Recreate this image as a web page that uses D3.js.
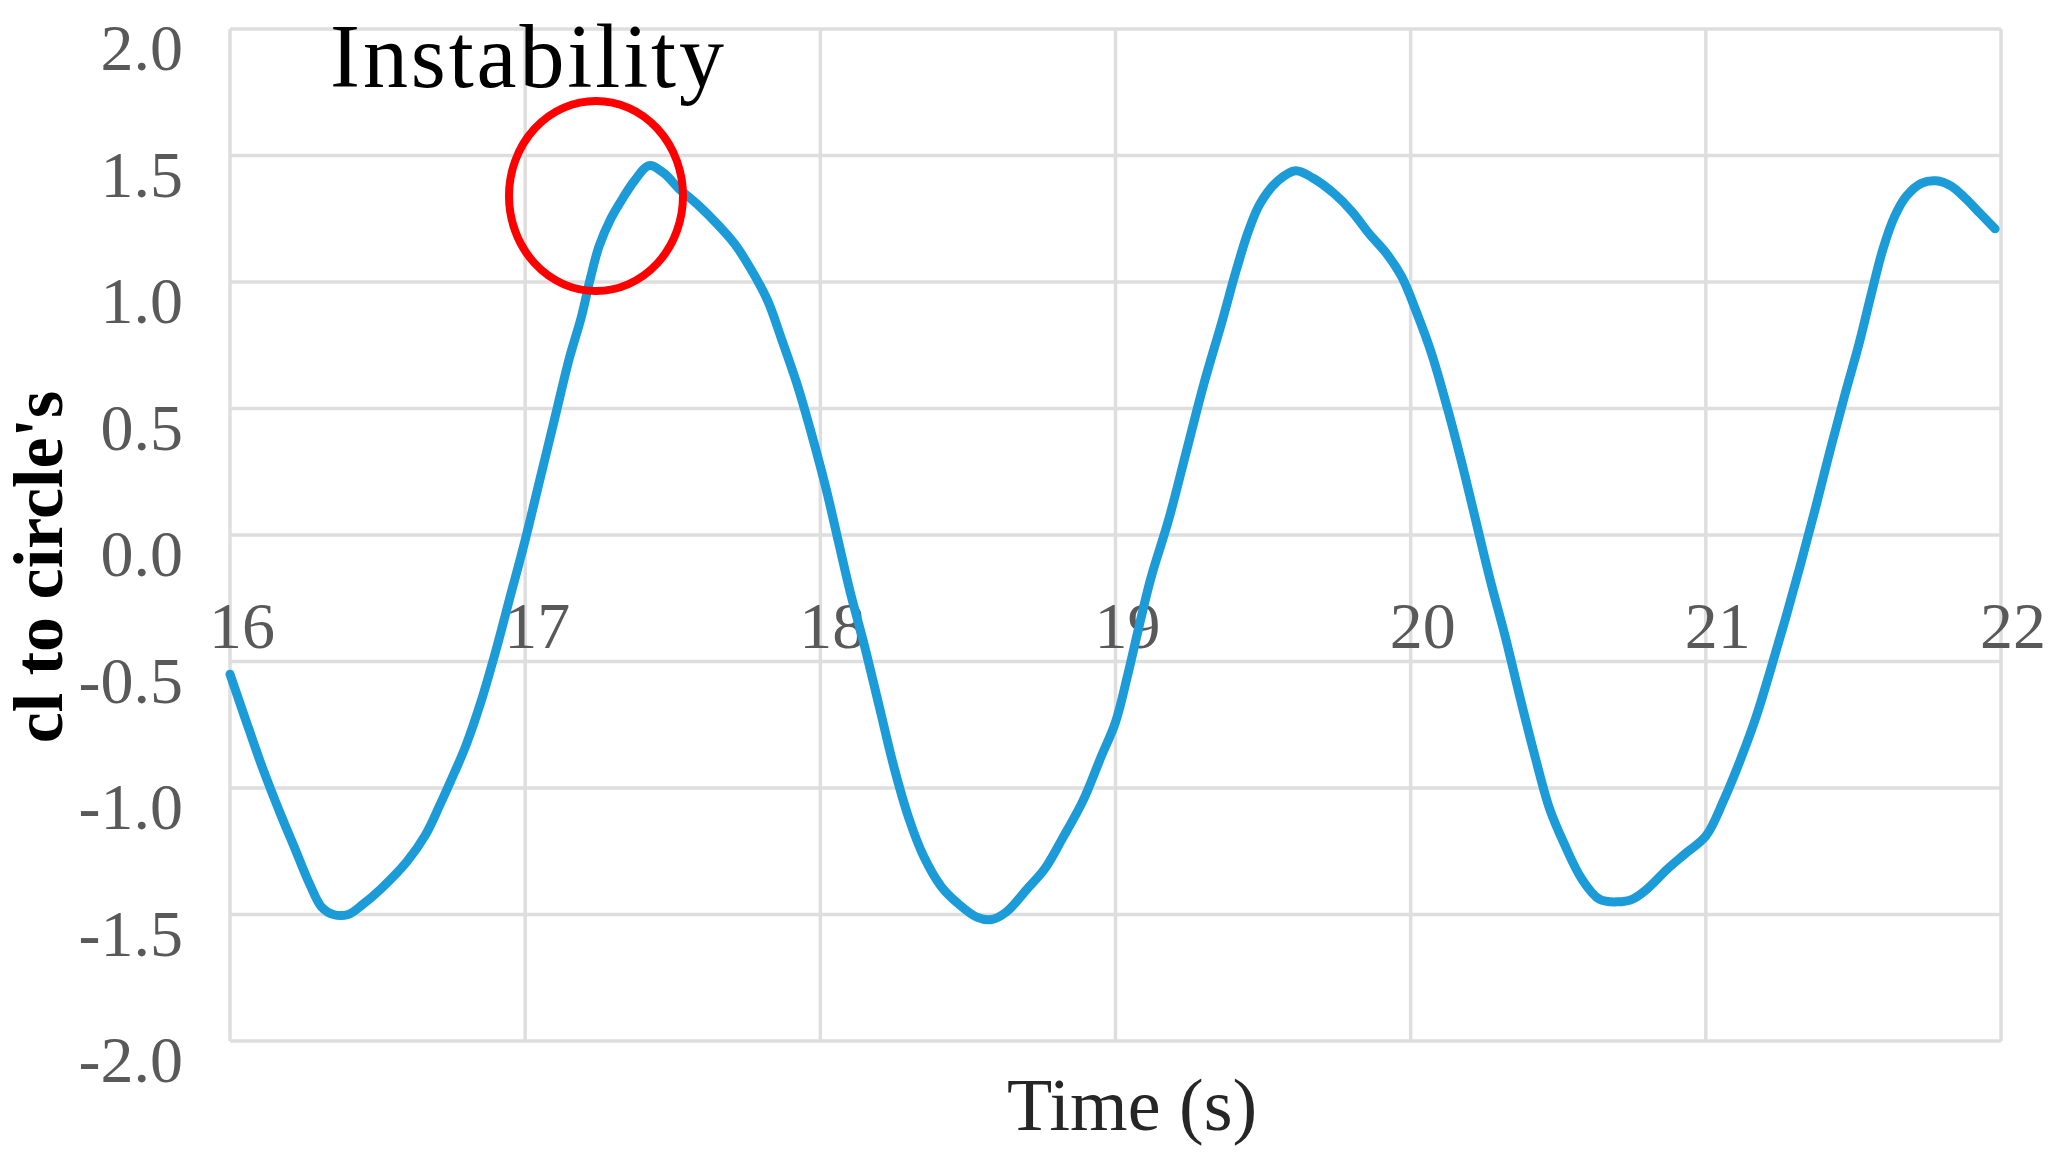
<!DOCTYPE html>
<html>
<head>
<meta charset="utf-8">
<script src="https://cdn.jsdelivr.net/npm/d3@7"></script>
<style>
  html, body { margin: 0; padding: 0; background: #ffffff; }
  svg { display: block; }
</style>
</head>
<body>
<svg id="chart" width="2062" height="1160"></svg>
<script>
// ---- data ----
const timeValues = [
  16.00, 16.05, 16.11, 16.17, 16.22, 16.27, 16.31, 16.35, 16.40, 16.45,
  16.51, 16.60, 16.66, 16.71, 16.76, 16.80, 16.85, 16.90, 16.95, 17.00,
  17.05, 17.10, 17.15, 17.19, 17.22, 17.25, 17.29, 17.33, 17.37, 17.42,
  17.47, 17.52, 17.59, 17.65, 17.71, 17.76, 17.82, 17.87, 17.92, 17.97,
  18.02, 18.06, 18.10, 18.15, 18.20, 18.25, 18.30, 18.35, 18.41, 18.47,
  18.53, 18.58, 18.63, 18.70, 18.76, 18.82, 18.89, 18.95, 19.00, 19.04,
  19.08, 19.12, 19.18, 19.24, 19.30, 19.36, 19.41, 19.45, 19.49, 19.55,
  19.61, 19.67, 19.74, 19.80, 19.86, 19.92, 19.97, 20.02, 20.07, 20.12,
  20.17, 20.22, 20.27, 20.32, 20.37, 20.42, 20.47, 20.52, 20.58, 20.64,
  20.70, 20.75, 20.80, 20.87, 20.93, 21.00, 21.06, 21.12, 21.17, 21.22,
  21.27, 21.32, 21.37, 21.42, 21.47, 21.52, 21.56, 21.60, 21.64, 21.68,
  21.73, 21.78, 21.83, 21.88, 21.93, 21.98
];
const clValues = [
  -0.55, -0.72, -0.92, -1.10, -1.24, -1.38, -1.47, -1.50, -1.50, -1.46,
  -1.40, -1.29, -1.19, -1.07, -0.94, -0.83, -0.66, -0.46, -0.24, -0.02,
  0.22, 0.46, 0.70, 0.86, 1.01, 1.14, 1.25, 1.33, 1.40, 1.46,
  1.43, 1.37, 1.30, 1.23, 1.15, 1.06, 0.93, 0.77, 0.60, 0.40,
  0.18, -0.02, -0.22, -0.44, -0.68, -0.92, -1.12, -1.27, -1.39, -1.46,
  -1.51, -1.52, -1.49, -1.40, -1.32, -1.20, -1.05, -0.88, -0.74, -0.56,
  -0.36, -0.17, 0.06, 0.33, 0.60, 0.84, 1.05, 1.20, 1.31, 1.40,
  1.44, 1.41, 1.35, 1.28, 1.19, 1.11, 1.02, 0.88, 0.72, 0.52,
  0.30, 0.06, -0.18, -0.40, -0.64, -0.87, -1.08, -1.22, -1.36, -1.44,
  -1.45, -1.44, -1.40, -1.32, -1.26, -1.19, -1.05, -0.88, -0.72, -0.53,
  -0.33, -0.12, 0.10, 0.33, 0.55, 0.76, 0.95, 1.13, 1.26, 1.34,
  1.39, 1.40, 1.38, 1.33, 1.27, 1.21
];
const xTicks = [16, 17, 18, 19, 20, 21, 22];
const yTicks = [-2.0, -1.5, -1.0, -0.5, 0.0, 0.5, 1.0, 1.5, 2.0];
const xTitle = "Time (s)";
const yTitle = "cl to circle's";
const annotationText = "Instability";
const annotationPoint = [17.24, 1.34]; // centre of the red ring (time, cl)

// ---- layout ----
const svg = d3.select("#chart");
const x = d3.scaleLinear().domain([16, 22]).range([230, 2001]);
const y = d3.scaleLinear().domain([-2, 2]).range([1041, 29]);

const serif = "'Liberation Serif', 'Times New Roman', serif";

// gridlines
const grid = svg.append("g");
grid.selectAll("line.h").data(yTicks).join("line")
  .attr("x1", x(16)).attr("x2", x(22))
  .attr("y1", d => y(d)).attr("y2", d => y(d))
  .attr("stroke", "#dedede").attr("stroke-width", 3.5);
grid.selectAll("line.v").data(xTicks).join("line")
  .attr("y1", y(2)).attr("y2", y(-2))
  .attr("x1", d => x(d)).attr("x2", d => x(d))
  .attr("stroke", "#dedede").attr("stroke-width", 3.5);

// y tick labels
svg.append("g").selectAll("text").data(yTicks).join("text")
  .attr("x", 183)
  .attr("y", d => y(d) + 41)
  .attr("text-anchor", "end")
  .attr("font-family", serif)
  .attr("font-size", 66)
  .attr("fill", "#595959")
  .text(d => d3.format(".1f")(d).replace("−", "-"));

// x tick labels (placed next to the zero line)
svg.append("g").selectAll("text").data(xTicks).join("text")
  .attr("x", d => x(d) + 12)
  .attr("y", y(0) + 113)
  .attr("text-anchor", "middle")
  .attr("font-family", serif)
  .attr("font-size", 66)
  .attr("fill", "#595959")
  .text(d => d);

// data line
const pts = timeValues.map((t, i) => [t, clValues[i]]);
svg.append("path")
  .datum(pts)
  .attr("fill", "none")
  .attr("stroke", "#1b9bd7")
  .attr("stroke-width", 9)
  .attr("stroke-linejoin", "round")
  .attr("stroke-linecap", "round")
  .attr("d", d3.line().x(d => x(d[0])).y(d => y(d[1])).curve(d3.curveCatmullRom.alpha(0.5)));

// axis titles
svg.append("text")
  .attr("x", 1132).attr("y", 1130)
  .attr("text-anchor", "middle")
  .attr("font-family", serif)
  .attr("font-size", 74)
  .attr("fill", "#262626")
  .text(xTitle);

svg.append("text")
  .attr("transform", "translate(62,567) rotate(-90)")
  .attr("text-anchor", "middle")
  .attr("font-family", serif)
  .attr("font-weight", "bold")
  .attr("font-size", 70)
  .attr("fill", "#000000")
  .text(yTitle);

// annotation
svg.append("ellipse")
  .attr("cx", x(annotationPoint[0]))
  .attr("cy", y(annotationPoint[1]))
  .attr("rx", 87).attr("ry", 95)
  .attr("fill", "none")
  .attr("stroke", "#ff0000")
  .attr("stroke-width", 8);

svg.append("text")
  .attr("x", 330).attr("y", 87)
  .attr("font-family", serif)
  .attr("font-size", 90)
  .attr("textLength", 394)
  .attr("fill", "#000000")
  .text(annotationText);
</script>
</body>
</html>
